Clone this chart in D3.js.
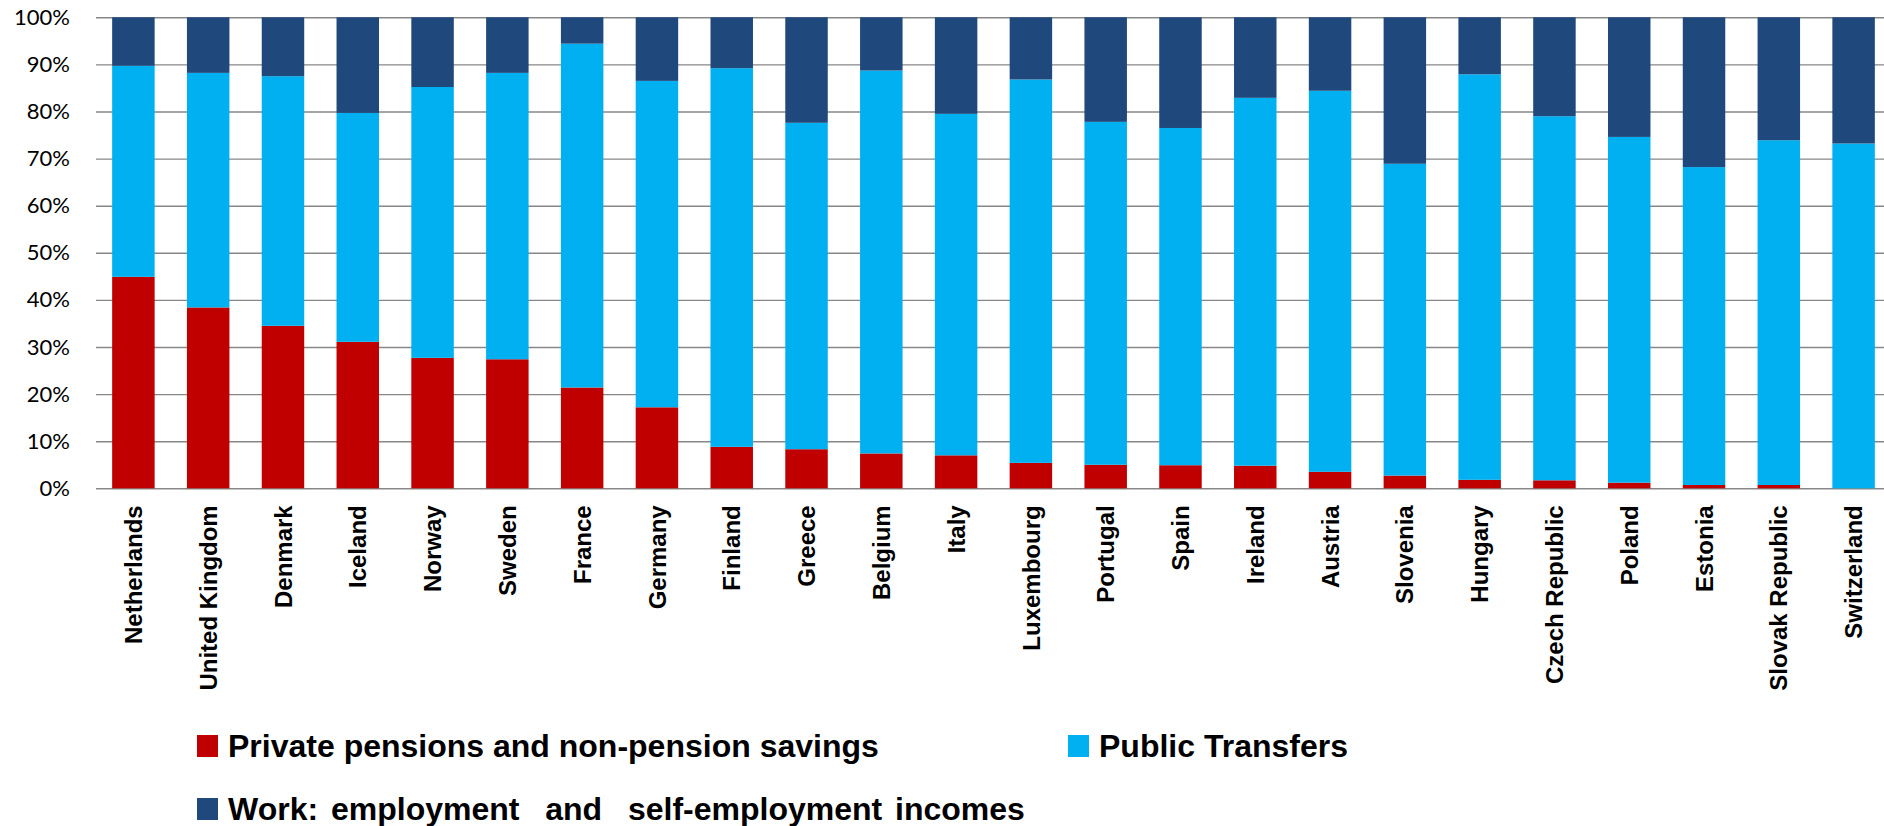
<!DOCTYPE html>
<html>
<head>
<meta charset="utf-8">
<script src="https://cdn.jsdelivr.net/npm/d3@7"></script>
<style>
  html, body { margin: 0; padding: 0; background: #fff; }
  svg { display: block; }
</style>
</head>
<body>
<svg id="chart" width="1884" height="826"></svg>
<script>
// Sources of income of older people, share of total (%)
const countries = ["Netherlands", "United Kingdom", "Denmark", "Iceland", "Norway", "Sweden",
  "France", "Germany", "Finland", "Greece", "Belgium", "Italy", "Luxembourg", "Portugal",
  "Spain", "Ireland", "Austria", "Slovenia", "Hungary", "Czech Republic", "Poland",
  "Estonia", "Slovak Republic", "Switzerland"];

const privatePensions = [44.9, 38.4, 34.5, 31.1, 27.7, 27.4, 21.4, 17.2, 8.8, 8.3, 7.4, 7.0,
  5.4, 5.0, 4.9, 4.8, 3.5, 2.7, 1.8, 1.7, 1.2, 0.7, 0.7, 0.0];
const publicTransfers = [44.8, 49.8, 53.0, 48.6, 57.5, 60.8, 73.0, 69.3, 80.4, 69.3, 81.3, 72.5,
  81.4, 72.8, 71.6, 78.1, 80.9, 66.2, 86.1, 77.3, 73.4, 67.5, 73.2, 73.2];
const workIncome = [10.3, 11.8, 12.5, 20.3, 14.8, 11.8, 5.6, 13.5, 10.8, 22.4, 11.3, 20.5,
  13.2, 22.2, 23.5, 17.1, 15.6, 31.1, 12.1, 21.0, 25.4, 31.8, 26.1, 26.8];

const seriesKeys = ["private", "public", "work"];
const seriesLabels = ["Private pensions and non-pension savings", "Public Transfers",
  "Work: employment  and  self-employment incomes"];
const seriesColors = ["#C00000", "#00B0F0", "#1F497D"];
const yTicks = [0, 0.1, 0.2, 0.3, 0.4, 0.5, 0.6, 0.7, 0.8, 0.9, 1.0];

const rows = countries.map((c, i) => ({
  country: c,
  private: privatePensions[i] / 100,
  public: publicTransfers[i] / 100,
  work: workIncome[i] / 100
}));

const svg = d3.select("#chart");
const plotLeft = 96, plotRight = 1891, plotTop = 17.3, plotBottom = 488.3;

const x = d3.scaleBand()
  .domain(countries)
  .range([plotLeft, plotRight])
  .paddingInner(0.432)
  .paddingOuter(0.216);

const y = d3.scaleLinear().domain([0, 1]).range([plotBottom, plotTop]);

// Gridlines and percentage labels
const yAxis = d3.axisLeft(y)
  .tickValues(yTicks)
  .tickFormat(d3.format(".0%"))
  .tickSizeInner(-(1884 - plotLeft))
  .tickSizeOuter(0)
  .tickPadding(26);

const gy = svg.append("g")
  .attr("transform", `translate(${plotLeft},0)`)
  .call(yAxis);
gy.select(".domain").remove();
gy.selectAll(".tick line").attr("stroke", "#878787").attr("stroke-width", 1.4);
gy.selectAll(".tick text")
  .attr("fill", "#000")
  .style("font-family", "Lato, 'Liberation Sans', sans-serif")
  .style("font-size", "22px");

// Stacked bars
const stacked = d3.stack().keys(seriesKeys)(rows);

svg.append("g")
  .selectAll("g")
  .data(stacked)
  .join("g")
  .attr("fill", (d, i) => seriesColors[i])
  .selectAll("rect")
  .data(d => d)
  .join("rect")
  .attr("x", d => x(d.data.country))
  .attr("width", x.bandwidth())
  .attr("y", d => y(d[1]))
  .attr("height", d => Math.max(0, y(d[0]) - y(d[1])));

// Country labels, rotated
const xAxis = d3.axisBottom(x).tickSize(0).tickPadding(0);
const gx = svg.append("g")
  .attr("transform", `translate(0,${plotBottom})`)
  .call(xAxis);
gx.select(".domain").remove();
gx.selectAll(".tick text")
  .attr("transform", "rotate(-90)")
  .attr("x", -17)
  .attr("y", 0)
  .attr("dy", "0.36em")
  .attr("text-anchor", "end")
  .attr("fill", "#000")
  .style("font-family", "'Liberation Sans', Arial, sans-serif")
  .style("font-weight", "bold")
  .style("font-size", "24px");

// Legend
const legendPos = [
  { x: 197, y: 735 },
  { x: 1068, y: 735 },
  { x: 197, y: 798 }
];
const legend = svg.append("g")
  .selectAll("g")
  .data(seriesLabels)
  .join("g")
  .attr("transform", (d, i) => `translate(${legendPos[i].x},${legendPos[i].y})`);
legend.append("rect")
  .attr("width", 21).attr("height", 22)
  .attr("fill", (d, i) => seriesColors[i]);
legend.append("text")
  .attr("x", 31)
  .attr("y", 22)
  .attr("fill", "#000")
  .style("font-family", "'Liberation Sans', Arial, sans-serif")
  .style("font-weight", "bold")
  .style("font-size", "32px")
  .style("white-space", "pre")
  .style("word-spacing", (d, i) => i === 2 ? "4px" : "0px")
  .text(d => d);
</script>
</body>
</html>
